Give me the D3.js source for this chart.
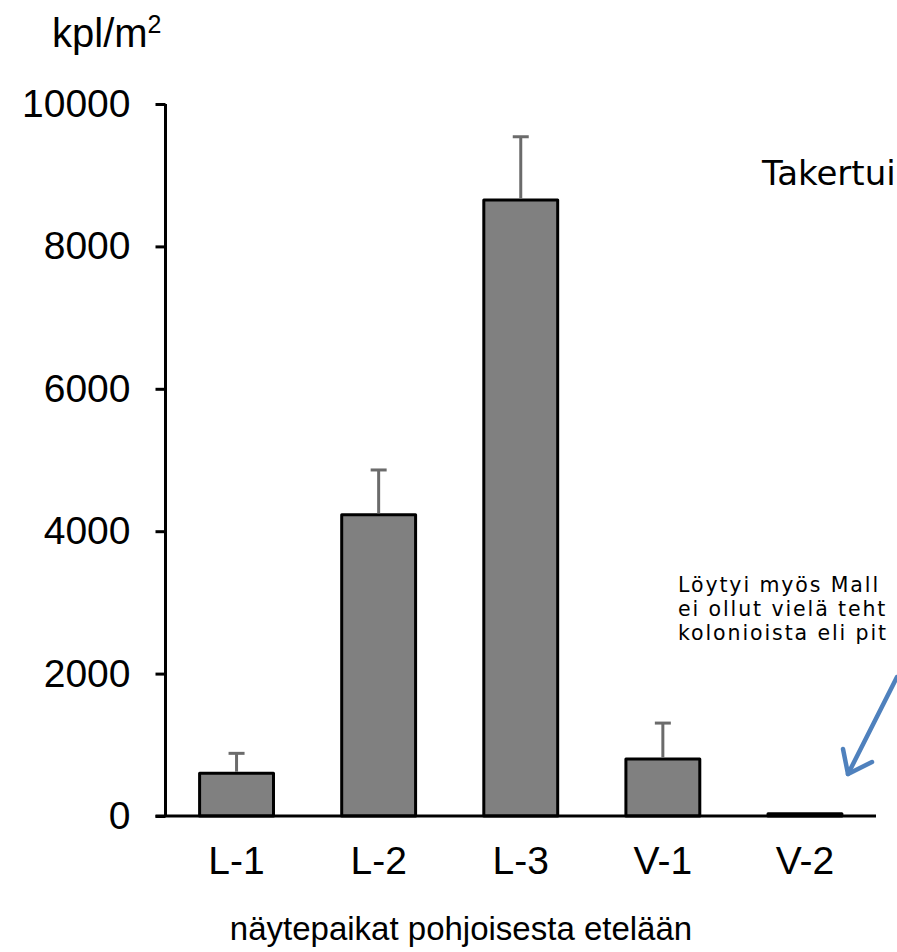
<!DOCTYPE html>
<html>
<head>
<meta charset="utf-8">
<script src="https://cdn.jsdelivr.net/npm/d3@7"></script>
<style>
  html, body { margin: 0; padding: 0; background: #fff; }
  svg { display: block; }
</style>
</head>
<body>
<div id="chart"></div>
<script>
// data
const sites = ["L-1", "L-2", "L-3", "V-1", "V-2"];
const counts = [600, 4230, 8650, 800, 30];
const errors = [280, 630, 890, 505, 0];
const yTicks = [0, 2000, 4000, 6000, 8000, 10000];

const svgWidth = 897;
const svgHeight = 952;

const chartMargin = { top: 104, right: 21, bottom: 136, left: 165.5 };
const width = svgWidth - chartMargin.left - chartMargin.right;
const height = svgHeight - chartMargin.top - chartMargin.bottom;

const svg = d3.select("#chart")
    .append("svg")
    .attr("width", svgWidth)
    .attr("height", svgHeight);

const chartGroup = svg.append("g")
    .attr("transform", `translate(${chartMargin.left}, ${chartMargin.top})`);

// scales
const xBand = d3.scaleBand()
    .domain(sites)
    .range([0, width])
    .paddingInner(0.48)
    .paddingOuter(0.24);

const yCount = d3.scaleLinear()
    .domain([0, 10000])
    .range([height, 0]);

// y axis
const yAxis = d3.axisLeft(yCount)
    .tickValues(yTicks)
    .tickSize(10)
    .tickPadding(25)
    .tickFormat(d3.format("d"));

const yG = chartGroup.append("g").call(yAxis);
yG.select(".domain").attr("stroke", "#000").attr("stroke-width", 3)
    .attr("d", `M0,${yCount(10000)}V${height}`);
yG.selectAll(".tick line").attr("stroke", "#000").attr("stroke-width", 3);
yG.selectAll(".tick text")
    .attr("font-family", "Liberation Sans, Arial, sans-serif")
    .attr("font-size", 39)
    .attr("fill", "#000");

// bars
chartGroup.selectAll("rect.bar")
    .data(counts)
    .enter()
    .append("rect")
    .attr("class", "bar")
    .attr("x", (d, i) => xBand(sites[i]))
    .attr("y", d => yCount(d))
    .attr("width", xBand.bandwidth())
    .attr("height", d => height - yCount(d))
    .attr("fill", "#808080")
    .attr("stroke", "#000")
    .attr("stroke-width", 3)
    .attr("stroke-linejoin", "round");

// error bars (upper only)
const errG = chartGroup.selectAll("g.err")
    .data(counts.map((c, i) => ({ site: sites[i], c: c, e: errors[i] })).filter(d => d.e > 0))
    .enter()
    .append("g")
    .attr("class", "err")
    .attr("stroke", "#6b6b6b")
    .attr("stroke-width", 3);

errG.append("line")
    .attr("x1", d => xBand(d.site) + xBand.bandwidth() / 2)
    .attr("x2", d => xBand(d.site) + xBand.bandwidth() / 2)
    .attr("y1", d => yCount(d.c) - 1.5)
    .attr("y2", d => yCount(d.c + d.e));

errG.append("line")
    .attr("x1", d => xBand(d.site) + xBand.bandwidth() / 2 - 8)
    .attr("x2", d => xBand(d.site) + xBand.bandwidth() / 2 + 8)
    .attr("y1", d => yCount(d.c + d.e))
    .attr("y2", d => yCount(d.c + d.e));

// x axis
const xAxis = d3.axisBottom(xBand).tickSize(0).tickPadding(30);
const xG = chartGroup.append("g")
    .attr("transform", `translate(0, ${height})`)
    .call(xAxis);
xG.select(".domain").attr("stroke", "#000").attr("stroke-width", 3)
    .attr("d", `M-10,0H${width}`);
xG.selectAll(".tick text")
    .attr("font-family", "Liberation Sans, Arial, sans-serif")
    .attr("font-size", 39)
    .attr("fill", "#000");

// axis titles
const yTitle = svg.append("text")
    .attr("x", 52)
    .attr("y", 47)
    .attr("font-family", "Liberation Sans, Arial, sans-serif")
    .attr("font-size", 40)
    .attr("fill", "#000")
    .text("kpl/m");
yTitle.append("tspan")
    .attr("font-size", 25)
    .attr("dy", -14)
    .text("2");

svg.append("text")
    .attr("x", 461)
    .attr("y", 940)
    .attr("text-anchor", "middle")
    .attr("font-family", "Liberation Sans, Arial, sans-serif")
    .attr("font-size", 33)
    .attr("fill", "#000")
    .text("näytepaikat pohjoisesta etelään");

// annotations (cut off at the right edge in the original)
svg.append("text")
    .attr("x", 762)
    .attr("y", 185)
    .attr("font-family", "DejaVu Sans, sans-serif")
    .attr("font-size", 34)
    .attr("fill", "#000")
    .text("Takertui");

const noteLines = ["Löytyi myös Mall", "ei ollut vielä teht", "kolonioista eli pit"];
svg.selectAll("text.note")
    .data(noteLines)
    .enter()
    .append("text")
    .attr("class", "note")
    .attr("x", 678)
    .attr("y", (d, i) => 592 + i * 24)
    .attr("font-family", "DejaVu Sans, sans-serif")
    .attr("font-size", 20.5)
    .attr("letter-spacing", 1.9)
    .attr("fill", "#000")
    .text(d => d);

// blue arrow pointing at V-2
const arrow = svg.append("g")
    .attr("stroke", "#4f81bd")
    .attr("stroke-width", 4.5)
    .attr("stroke-linecap", "round")
    .attr("fill", "none");
arrow.append("line")
    .attr("x1", 897).attr("y1", 677)
    .attr("x2", 848).attr("y2", 774);
arrow.append("polyline")
    .attr("points", "843,749 848,774 872,762")
    .attr("stroke-linejoin", "round");
</script>
</body>
</html>
